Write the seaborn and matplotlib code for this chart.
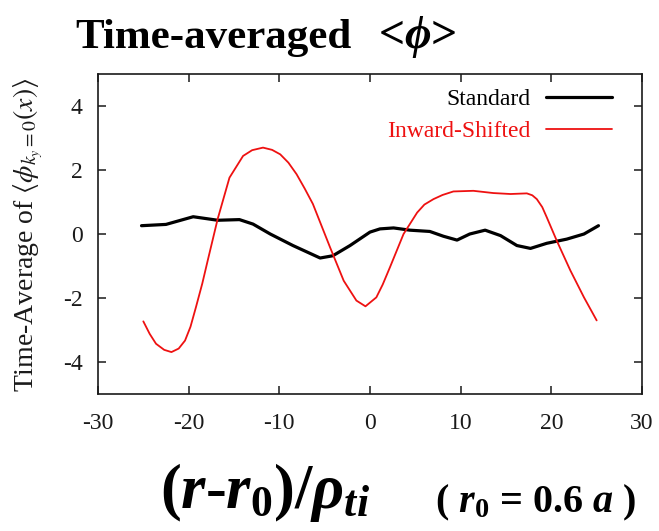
import matplotlib
matplotlib.use("Agg")
import matplotlib.pyplot as plt
import seaborn as sns
import pandas as pd

# Radial coordinate (r - r0)/rho_ti and time-averaged potential, standard case
std_x = [-25.2, -22.5, -19.5, -16.8, -14.4, -12.9, -11.0, -8.5, -5.5, -4.1, -2.2,
         0.0, 1.1, 2.6, 4.4, 6.6, 8.1, 9.6, 11.0, 12.7, 14.4, 16.2, 17.7, 19.5,
         21.7, 23.6, 25.2]
std_y = [0.26, 0.30, 0.54, 0.43, 0.45, 0.31, 0.0, -0.36, -0.75, -0.68, -0.36,
         0.06, 0.16, 0.19, 0.12, 0.08, -0.07, -0.19, 0.0, 0.12, -0.05, -0.36,
         -0.45, -0.29, -0.16, 0.0, 0.26]

# Inward-shifted configuration
inw_x = [-25.0, -24.3, -23.6, -22.7, -21.9, -21.1, -20.4, -19.8, -19.2, -18.5,
         -17.9, -16.8, -15.5, -14.0, -13.0, -11.8, -10.8, -9.9, -9.0, -8.1,
         -7.2, -6.3, -4.4, -2.9, -1.5, -0.5, 0.7, 1.4, 2.2, 3.7, 5.2, 6.0, 7.0,
         8.0, 9.2, 11.4, 13.6, 15.5, 17.3, 17.9, 18.4, 19.0, 19.5, 20.6, 22.1,
         23.6, 25.0]
inw_y = [-2.73, -3.12, -3.43, -3.62, -3.69, -3.58, -3.33, -2.90, -2.29, -1.55,
         -0.83, 0.47, 1.76, 2.44, 2.62, 2.70, 2.63, 2.49, 2.23, 1.87, 1.42, 0.94,
         -0.42, -1.46, -2.08, -2.26, -1.98, -1.58, -1.04, 0.0, 0.67, 0.92, 1.09,
         1.22, 1.33, 1.35, 1.28, 1.25, 1.27, 1.21, 1.09, 0.84, 0.52, -0.21,
         -1.14, -1.98, -2.70]

x_ticks = [-30, -20, -10, 0, 10, 20, 30]
y_ticks = [-4, -2, 0, 2, 4]

sns.set_style("ticks")
plt.rcParams["font.family"] = ["Liberation Serif", "DejaVu Serif"]
plt.rcParams["text.color"] = "black"
plt.rcParams["mathtext.fontset"] = "custom"
plt.rcParams["mathtext.rm"] = "Liberation Serif:bold"
plt.rcParams["mathtext.it"] = "Liberation Serif:italic:bold"
plt.rcParams["mathtext.bf"] = "Liberation Serif:bold"

std_df = pd.DataFrame({"x": std_x, "y": std_y})
inw_df = pd.DataFrame({"x": inw_x, "y": inw_y})

fig = plt.figure(figsize=(6.59, 5.31), dpi=100)
ax = fig.add_axes([0.1487, 0.258, 0.8255, 0.6026])

sns.lineplot(data=std_df, x="x", y="y", ax=ax, color="black", lw=2.3,
             estimator=None, sort=False, label="Standard")
sns.lineplot(data=inw_df, x="x", y="y", ax=ax, color="#ee1111", lw=1.3,
             estimator=None, sort=False, label="Inward-Shifted")

ax.set_xlim(-30, 30)
ax.set_ylim(-5, 5)
ax.set_xticks(x_ticks)
ax.set_xticklabels([str(v) for v in x_ticks])
ax.set_yticks(y_ticks)
ax.set_yticklabels([str(v) for v in y_ticks])
ax.set_xlabel("")
ax.set_ylabel("")
ax.tick_params(direction="in", top=True, right=True, length=6, width=1.1,
               labelsize=17, colors="#1a1a1a", labelcolor="#1a1a1a")
ax.tick_params(axis="x", pad=14)
ax.tick_params(axis="y", pad=11)
for sp in ax.spines.values():
    sp.set_visible(True)
    sp.set_linewidth(1.2)
    sp.set_color("#1a1a1a")

leg = ax.legend(loc="upper right", bbox_to_anchor=(0.945, 0.955), frameon=False,
                markerfirst=False, fontsize=17, handlelength=2.8,
                handletextpad=0.65, labelspacing=0.45, borderaxespad=0,
                borderpad=0)
for txt, line in zip(leg.get_texts(), leg.get_lines()):
    txt.set_color(line.get_color())

fig.text(0.043, 1 - 235 / 531, r"Time-Average of $\langle\phi_{k_y=0}(x)\rangle$",
         rotation=90, ha="center", va="center", fontsize=20, color="#1a1a1a",
         math_fontfamily="stix")

fig.text(75 / 659, 1 - 48 / 531, "Time-averaged", fontsize=31, fontweight="bold",
         ha="left", va="baseline", color="black")
fig.text(378 / 659, 1 - 48 / 531, r"<$\phi$>", fontsize=33, fontweight="bold",
         ha="left", va="baseline", math_fontfamily="custom", color="black")

fig.text(160 / 659, 1 - 508 / 531, r"($r$-$r_0$)/$\rho_{ti}$", fontsize=45,
         fontweight="bold", ha="left", va="baseline", math_fontfamily="custom",
         color="black")
fig.text(636 / 659, 1 - 512 / 531, r"( $r_0$ = 0.6 $a$ )", fontsize=29,
         fontweight="bold", ha="right", va="baseline", math_fontfamily="custom",
         color="black")

fig.savefig("out.png", dpi=100)
